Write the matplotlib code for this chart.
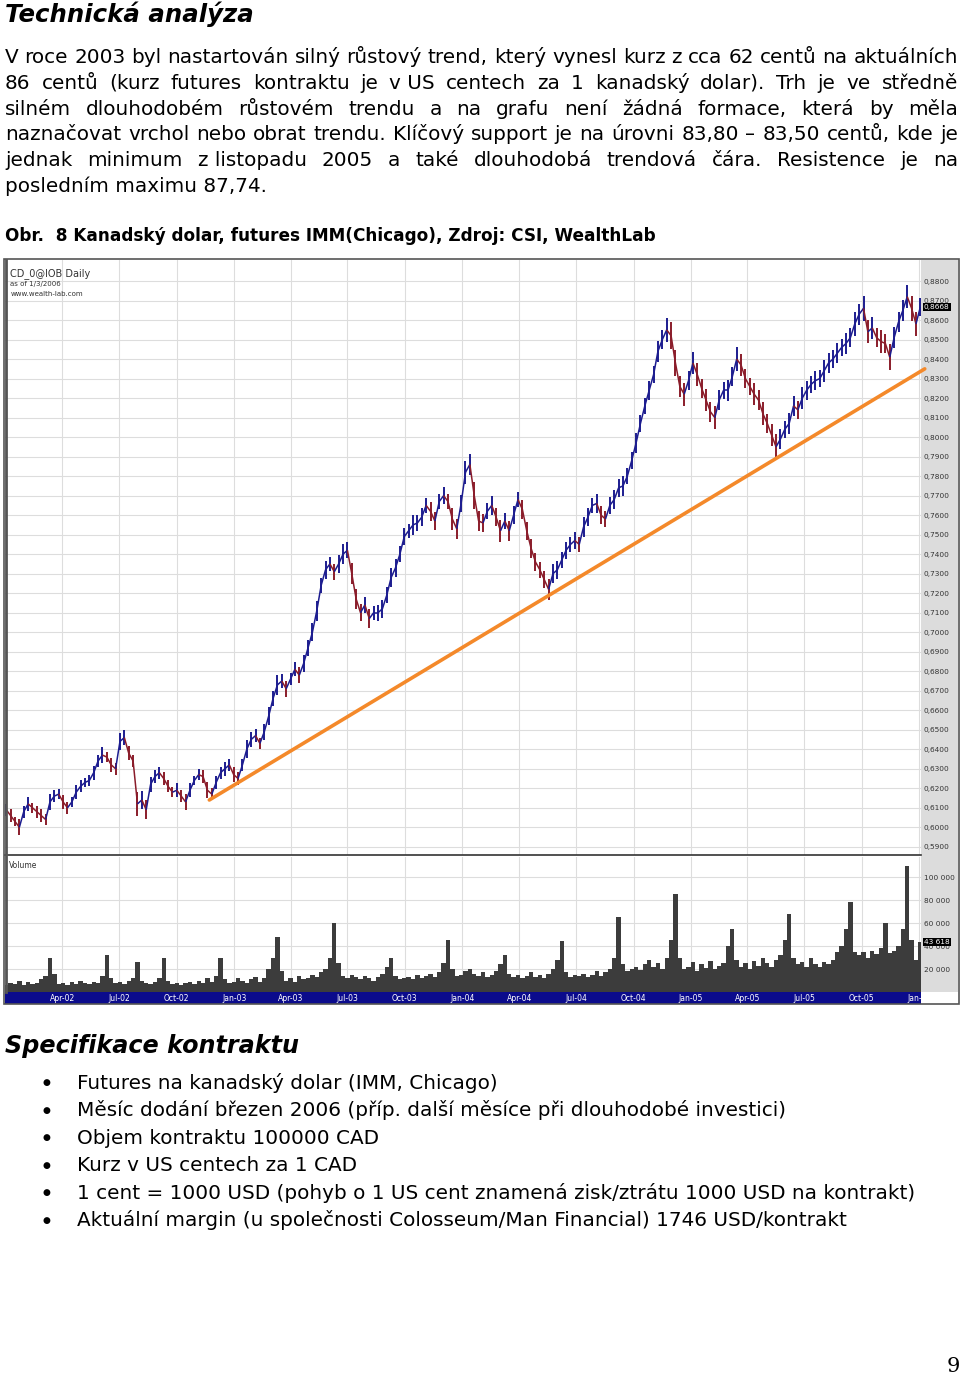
import matplotlib
matplotlib.use('Agg')
import matplotlib.pyplot as plt
import matplotlib.dates as mdates
import matplotlib.patches as patches
import matplotlib.transforms as mtransforms
from matplotlib.collections import LineCollection
import numpy as np
import pandas as pd

W, H = 960, 1378
plt.rcParams['font.family'] = ['DejaVu Sans']

# ---- data (weekly) ----
dates = pd.date_range(end='2006-01-03', periods=210, freq='7D')
close = [
    0.609, 0.606, 0.603, 0.600, 0.608, 0.612, 0.610, 0.608, 0.606, 0.604,
    0.613, 0.616, 0.617, 0.613, 0.610, 0.613, 0.618, 0.621, 0.623, 0.624,
    0.628, 0.634, 0.637, 0.636, 0.632, 0.630, 0.644, 0.646, 0.638, 0.634,
    0.612, 0.614, 0.609, 0.622, 0.626, 0.628, 0.625, 0.621, 0.618, 0.619,
    0.616, 0.613, 0.619, 0.624, 0.627, 0.626, 0.619, 0.617, 0.623, 0.628,
    0.630, 0.632, 0.627, 0.625, 0.632, 0.640, 0.645, 0.647, 0.643, 0.649,
    0.657, 0.666, 0.673, 0.675, 0.671, 0.676, 0.681, 0.678, 0.684, 0.692,
    0.700, 0.711, 0.724, 0.732, 0.735, 0.731, 0.735, 0.740, 0.742, 0.730,
    0.717, 0.710, 0.714, 0.707, 0.710, 0.710, 0.712, 0.719, 0.728, 0.733,
    0.740, 0.749, 0.752, 0.755, 0.756, 0.759, 0.765, 0.762, 0.757, 0.767,
    0.770, 0.767, 0.758, 0.753, 0.766, 0.782, 0.786, 0.770, 0.757, 0.756,
    0.762, 0.765, 0.759, 0.752, 0.757, 0.752, 0.760, 0.768, 0.763, 0.752,
    0.743, 0.736, 0.732, 0.727, 0.722, 0.730, 0.732, 0.737, 0.742, 0.745,
    0.747, 0.745, 0.754, 0.759, 0.765, 0.766, 0.760, 0.758, 0.765, 0.768,
    0.774, 0.775, 0.780, 0.788, 0.797, 0.807, 0.816, 0.824, 0.832, 0.844,
    0.850, 0.855, 0.852, 0.838, 0.826, 0.822, 0.829, 0.838, 0.832, 0.825,
    0.819, 0.813, 0.810, 0.819, 0.824, 0.824, 0.831, 0.840, 0.837, 0.830,
    0.826, 0.822, 0.819, 0.812, 0.807, 0.801, 0.795, 0.799, 0.804, 0.807,
    0.816, 0.814, 0.820, 0.824, 0.827, 0.829, 0.830, 0.834, 0.838, 0.840,
    0.843, 0.846, 0.848, 0.851, 0.858, 0.863, 0.866, 0.854, 0.856, 0.851,
    0.849, 0.848, 0.841, 0.851, 0.859, 0.865, 0.872, 0.866, 0.858, 0.8668,
]
# weekly high-low spread, in thousandths
spread = [
    6, 7, 5, 8, 6, 7, 5, 6, 7, 6,
    8, 6, 5, 7, 6, 5, 7, 6, 5, 6,
    7, 6, 8, 5, 7, 6, 9, 8, 7, 6,
    12, 9, 10, 8, 7, 6, 7, 6, 5, 7,
    6, 8, 7, 5, 6, 7, 8, 6, 7, 6,
    7, 6, 8, 7, 6, 9, 8, 7, 6, 8,
    9, 8, 10, 7, 8, 6, 7, 8, 9, 8,
    9, 10, 8, 9, 7, 8, 9, 10, 8, 11,
    10, 9, 8, 10, 7, 8, 9, 8, 10, 9,
    8, 9, 7, 10, 8, 9, 8, 10, 9, 8,
    9, 8, 11, 10, 9, 12, 11, 14, 10, 9,
    8, 10, 9, 11, 8, 10, 9, 8, 10, 9,
    10, 9, 8, 9, 11, 10, 9, 8, 9, 8,
    9, 8, 10, 9, 8, 10, 9, 8, 9, 10,
    9, 10, 8, 9, 10, 9, 8, 10, 9, 11,
    10, 12, 14, 13, 11, 12, 10, 11, 12, 10,
    11, 10, 12, 10, 9, 11, 10, 12, 11, 10,
    9, 11, 10, 12, 10, 11, 13, 10, 9, 11,
    10, 9, 11, 10, 9, 10, 9, 11, 10, 9,
    10, 9, 11, 10, 12, 11, 13, 12, 11, 10,
    12, 10, 13, 11, 10, 11, 12, 13, 12, 9,
]
volume_k = [
    6, 8, 7, 10, 6, 9, 7, 8, 11, 14,
    30, 16, 7, 8, 6, 9, 7, 10, 8, 7,
    9, 8, 14, 32, 12, 8, 9, 7, 10, 12,
    26, 10, 8, 7, 9, 12, 30, 10, 7, 8,
    6, 8, 9, 7, 10, 8, 12, 9, 14, 30,
    11, 8, 9, 12, 10, 8, 11, 13, 9, 12,
    20, 30, 48, 18, 10, 12, 9, 14, 11, 12,
    15, 13, 17, 20, 30, 60, 25, 14, 12, 15,
    13, 11, 14, 12, 10, 13, 16, 22, 30, 14,
    11, 12, 13, 11, 15, 12, 14, 16, 13, 17,
    25, 45, 20, 14, 15, 18, 20, 16, 14, 17,
    13, 15, 18, 24, 32, 16, 13, 15, 12, 14,
    17, 13, 15, 12, 16, 20, 28, 44, 17, 13,
    15, 14, 16, 13, 15, 18, 14, 17, 20, 30,
    65, 24, 18, 20, 22, 19, 24, 28, 22, 25,
    20, 30, 45, 85, 30, 20, 22, 26, 18, 24,
    21, 27, 20, 23, 25, 40, 55, 28, 22, 25,
    20, 27, 23, 30, 25, 22, 28, 32, 45, 68,
    30, 24, 26, 22, 30, 24, 22, 26, 24, 28,
    35, 40, 55, 78, 35, 32, 35, 30, 36, 33,
    38, 60, 34, 36, 40, 55, 110, 45, 28, 43.6,
]
trend_dates = ['2002-11-22', '2006-01-10']
trend_values = [0.614, 0.835]
last_price = '0,8668'
last_volume = '43 618'

price_ticks = np.round(np.arange(0.59, 0.8801, 0.01), 2)
volume_ticks = [20, 40, 60, 80, 100]
quarters = pd.date_range('2002-04-01', '2006-01-01', freq='QS')
quarter_labels = [d.strftime('%b-%y') for d in quarters]

para_lines = [
    'V roce 2003 byl nastartován silný růstový trend, který vynesl kurz z cca 62 centů na aktuálních',
    '86 centů (kurz futures kontraktu je v\u00a0US centech za 1 kanadský dolar). Trh je ve středně',
    'silném dlouhodobém růstovém trendu a na grafu není žádná formace, která by měla',
    'naznačovat vrchol nebo obrat trendu. Klíčový support je na úrovni 83,80 – 83,50 centů, kde je',
    'jednak minimum z\u00a0listopadu 2005 a také dlouhodobá trendová čára. Resistence je na',
    'posledním maximu 87,74.',
]
bullets = [
    'Futures na kanadský dolar (IMM, Chicago)',
    'Měsíc dodání březen 2006 (příp. další měsíce při dlouhodobé investici)',
    'Objem kontraktu 100000 CAD',
    'Kurz v US centech za 1 CAD',
    '1 cent = 1000 USD (pohyb o 1 US cent znamená zisk/ztrátu 1000 USD na kontrakt)',
    'Aktuální margin (u společnosti Colosseum/Man Financial) 1746 USD/kontrakt',
]

fig = plt.figure(figsize=(9.6, 13.78), dpi=100)
renderer = fig.canvas.get_renderer()


def fx(x):
    return x / W


def fy(y):
    return 1 - y / H


def axes_px(x0, y0, x1, y1, **kw):
    return fig.add_axes([fx(x0), fy(y1), (x1 - x0) / W, (y1 - y0) / H], **kw)


def width_of(s, **kw):
    t = fig.text(0, 0, s, **kw)
    w = t.get_window_extent(renderer).width
    t.remove()
    return w


def fit_size(s, target, **kw):
    return 12 * target / width_of(s, fontsize=12, **kw)


# ---- text of the page ----
body = fit_size(bullets[-1], 765)
fig.text(fx(5), fy(22), 'Technická analýza', fontsize=fit_size('Technická analýza', 248, weight='bold', style='italic'),
         weight='bold', style='italic', va='baseline')

for k, line in enumerate(para_lines):
    yb = fy(63 + 25.8 * k)
    if k == len(para_lines) - 1:
        fig.text(fx(5), yb, line, fontsize=body, va='baseline')
        continue
    words = line.split(' ')
    ws = [width_of(w_, fontsize=body) for w_ in words]
    gap = (953 - sum(ws)) / (len(words) - 1)
    x = 5
    for w_, wd in zip(words, ws):
        fig.text(fx(x), yb, w_, fontsize=body, va='baseline')
        x += wd + gap

cap = 'Obr.  8 Kanadský dolar, futures IMM(Chicago), Zdroj: CSI, WealthLab'
fig.text(fx(5), fy(241), cap, fontsize=fit_size(cap, 648, weight='bold'), weight='bold', va='baseline')

fig.text(fx(5), fy(1053), 'Specifikace kontraktu',
         fontsize=fit_size('Specifikace kontraktu', 293, weight='bold', style='italic'),
         weight='bold', style='italic', va='baseline')
for k, b in enumerate(bullets):
    yb = fy(1089 + 27.4 * k)
    fig.text(fx(46), fy(1083 + 27.4 * k), '\u25CF', fontsize=6.5, ha='center', va='center')
    fig.text(fx(77), yb, b, fontsize=body, va='baseline')

fig.text(fx(960), fy(1372), '9', fontsize=15, family='DejaVu Serif', ha='right', va='baseline')

# ---- chart frame ----
fig.patches.append(patches.Rectangle((fx(921), fy(992)), (958 - 921) / W, (992 - 260) / H,
                                     transform=fig.transFigure, facecolor='#DCDCDC', edgecolor='none', zorder=-1))
fig.patches.append(patches.Rectangle((fx(4), fy(1004)), 955 / W, 745 / H, transform=fig.transFigure,
                                     facecolor='none', edgecolor='#555555', lw=1.2, zorder=5))
fig.lines.append(plt.Line2D([fx(5.5), fx(5.5)], [fy(260), fy(992)], transform=fig.transFigure,
                            color='#555555', lw=2, zorder=5))

x_lo, x_hi = pd.Timestamp('2001-12-30'), pd.Timestamp('2006-01-04')

# price panel
ax = axes_px(5, 260, 921, 855)
ax.set_xlim(x_lo, x_hi)
ax.set_ylim(0.5858, 0.8908)
ax.set_yticks(price_ticks)
ax.set_yticklabels([f'{v:.4f}'.replace('.', ',') for v in price_ticks])
ax.yaxis.tick_right()
ax.tick_params(axis='y', length=0, pad=2, labelsize=5.3, labelcolor='#333333')
ax.set_xticks(quarters)
ax.tick_params(axis='x', length=0, labelbottom=False)
ax.grid(color='#DDDDDD', lw=0.8)
ax.set_axisbelow(True)
for s in ['top', 'right', 'left']:
    ax.spines[s].set_visible(False)
ax.spines['bottom'].set_color('#333333')
ax.spines['bottom'].set_linewidth(1.2)

xn = mdates.date2num(dates)
close_a = np.array(close)
half = np.array(spread) / 2000
up = np.r_[True, close_a[1:] >= close_a[:-1]]
cols = np.where(up, '#1C1C8F', '#8A1C2A')
ax.vlines(xn, close_a - half, close_a + half, colors=cols, lw=1.4)
pts = np.column_stack([xn, close_a])
segs = np.stack([pts[:-1], pts[1:]], axis=1)
ax.add_collection(LineCollection(segs, colors=cols[1:], linewidths=1.1))
ax.plot(pd.to_datetime(trend_dates), trend_values, color='#F4892A', lw=2.6, solid_capstyle='round', clip_on=False)

blend = mtransforms.blended_transform_factory(ax.transAxes, ax.transData)
ax.text(1.003, 0.8668, last_price, transform=blend, fontsize=5.3, color='white', va='center',
        bbox=dict(boxstyle='square,pad=0.15', facecolor='black', edgecolor='none'))

ax.text(0.006, 0.987, 'CD_0@IOB Daily', transform=ax.transAxes, fontsize=7, color='#333333', va='top')
ax.text(0.006, 0.965, 'as of 1/3/2006', transform=ax.transAxes, fontsize=5, color='#333333', va='top')
ax.text(0.006, 0.948, 'www.wealth-lab.com', transform=ax.transAxes, fontsize=5, color='#333333', va='top')

# volume panel
av = axes_px(5, 857, 921, 992)
av.set_xlim(x_lo, x_hi)
av.set_ylim(0, 117.4)
av.bar(dates, volume_k, width=7, color='#3C3C3C', zorder=2)
av.set_yticks(volume_ticks)
av.set_yticklabels([f'{v} 000' for v in volume_ticks])
av.yaxis.tick_right()
av.tick_params(axis='y', length=0, pad=2, labelsize=5.3, labelcolor='#333333')
av.set_xticks(quarters)
av.tick_params(axis='x', length=0, labelbottom=False)
av.grid(color='#DDDDDD', lw=0.8, zorder=0)
av.set_axisbelow(True)
for s in av.spines.values():
    s.set_visible(False)
av.text(0.004, 0.97, 'Volume', transform=av.transAxes, fontsize=5.5, color='#333333', va='top')
bv = mtransforms.blended_transform_factory(av.transAxes, av.transData)
av.text(1.003, 43.6, last_volume, transform=bv, fontsize=5.3, color='white', va='center',
        bbox=dict(boxstyle='square,pad=0.15', facecolor='black', edgecolor='none'))

# date band
ab = axes_px(5, 992, 921, 1004, facecolor='#0B0B8C')
ab.set_xlim(x_lo, x_hi)
ab.set_ylim(0, 1)
ab.set_xticks([])
ab.set_yticks([])
for s in ab.spines.values():
    s.set_visible(False)
for d, lab in zip(quarters, quarter_labels):
    ab.text(d, 0.45, lab, fontsize=5.5, color='white', ha='center', va='center', clip_on=True)

fig.savefig('out.png', dpi=100)
